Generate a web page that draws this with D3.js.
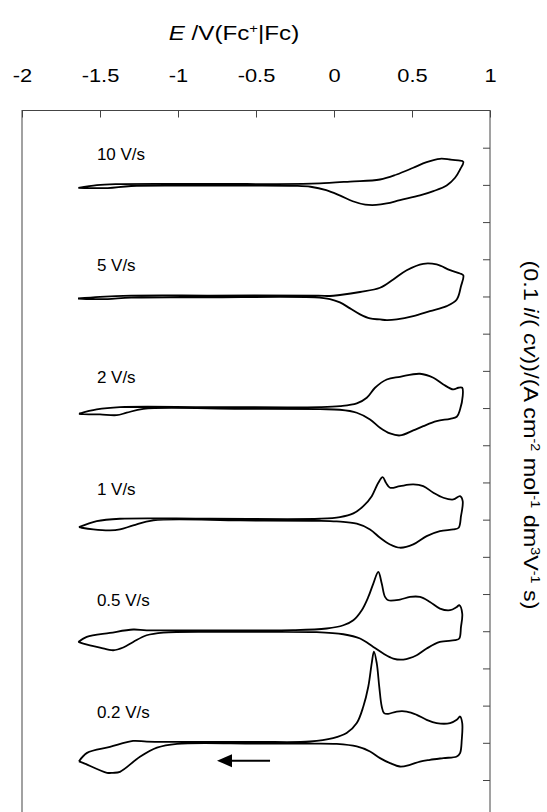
<!DOCTYPE html>
<html>
<head>
<meta charset="utf-8">
<script src="https://cdn.jsdelivr.net/npm/d3@7"></script>
<style>
  html, body { margin: 0; padding: 0; background: #fff; }
  svg { display: block; font-family: "Liberation Sans", Arial, sans-serif; }
</style>
</head>
<body>
<svg id="chart" width="547" height="812"></svg>
<script>
// Scan-rate labels and the vertical offset (in tick units) of each voltammogram
const rates   = ["10 V/s", "5 V/s", "2 V/s", "1 V/s", "0.5 V/s", "0.2 V/s"];
const offsets = [17, 14, 11, 8, 5, 2];

// Potential axis ticks (V vs Fc+|Fc) and the unlabelled current ticks
const xTicks = [-2, -1.5, -1, -0.5, 0, 0.5, 1];
const yTicks = d3.range(1, 19);

// Closed CV loops: [E / V, normalised current], forward branch then return branch
const cv10 = [[-1.639,-0.078],[-1.52,-0.005],[-1.40,0.020],[-0.8,0.025],[-0.20,0.025],[-0.09,0.040],[0.103,0.090],[0.295,0.145],[0.402,0.280],[0.508,0.460],[0.594,0.610],[0.679,0.702],[0.744,0.683],[0.797,0.656],[0.829,0.621],
  [0.808,0.414],[0.776,0.191],[0.722,-0.016],[0.637,-0.169],[0.551,-0.285],[0.423,-0.411],[0.338,-0.500],[0.270,-0.540],[0.200,-0.530],[0.120,-0.440],[0.040,-0.290],[-0.050,-0.140],[-0.150,-0.050],[-0.250,-0.025],[-0.8,-0.022],[-1.30,-0.030],[-1.45,-0.085],[-1.639,-0.078]];

const cv5 = [[-1.641,-0.054],[-1.50,-0.010],[-1.30,0.022],[-0.8,0.025],[-0.10,0.025],[-0.026,0.013],[0.038,0.040],[0.167,0.120],[0.295,0.234],[0.380,0.457],[0.466,0.707],[0.572,0.879],[0.658,0.860],[0.744,0.707],[0.808,0.618],[0.829,0.565],
  [0.814,0.277],[0.787,-0.081],[0.722,-0.261],[0.615,-0.395],[0.508,-0.530],[0.402,-0.618],[0.338,-0.637],[0.295,-0.618],[0.231,-0.590],[0.167,-0.480],[0.103,-0.320],[0.038,-0.160],[-0.026,-0.070],[-0.122,-0.025],[-0.8,-0.022],[-1.30,-0.030],[-1.45,-0.070],[-1.55,-0.070],[-1.641,-0.054]];

const cv2 = [[-1.635,-0.153],[-1.521,-0.038],[-1.372,0.024],[-0.8,0.025],[-0.090,0.025],[0.038,0.051],[0.146,0.124],[0.210,0.277],[0.263,0.546],[0.338,0.769],[0.423,0.841],[0.551,0.922],[0.637,0.815],[0.701,0.634],[0.765,0.500],[0.797,0.546],[0.822,0.546],
  [0.825,0.320],[0.808,-0.038],[0.787,-0.234],[0.744,-0.288],[0.658,-0.352],[0.572,-0.487],[0.508,-0.602],[0.423,-0.737],[0.359,-0.683],[0.295,-0.530],[0.231,-0.306],[0.146,-0.126],[0.038,-0.046],[-0.090,-0.030],[-0.6,-0.022],[-1.222,-0.020],[-1.329,-0.126],[-1.393,-0.191],[-1.500,-0.172],[-1.607,-0.164],[-1.635,-0.153]];

const cv1 = [[-1.635,-0.202],[-1.521,-0.040],[-1.372,0.024],[-0.8,0.025],[-0.090,0.025],[0.038,0.067],[0.124,0.167],[0.188,0.363],[0.242,0.632],[0.284,0.992],[0.312,1.142],[0.333,0.992],[0.359,0.858],[0.423,0.901],[0.508,0.946],[0.572,0.901],[0.637,0.723],[0.701,0.589],[0.765,0.543],[0.808,0.632],
  [0.825,0.497],[0.814,0.094],[0.799,-0.218],[0.765,-0.263],[0.679,-0.309],[0.594,-0.444],[0.508,-0.667],[0.423,-0.755],[0.359,-0.667],[0.295,-0.487],[0.231,-0.263],[0.146,-0.110],[0.017,-0.048],[-0.090,-0.030],[-0.6,-0.022],[-1.158,-0.020],[-1.287,-0.156],[-1.372,-0.263],[-1.436,-0.290],[-1.543,-0.263],[-1.617,-0.218],[-1.635,-0.202]];

const cv05 = [[-1.639,-0.288],[-1.585,-0.153],[-1.436,-0.046],[-1.287,0.046],[-1.201,0.025],[-0.8,0.025],[-0.261,0.027],[-0.047,0.073],[0.060,0.161],[0.124,0.296],[0.178,0.565],[0.220,0.922],[0.252,1.282],[0.284,1.594],[0.306,1.282],[0.327,0.922],[0.348,0.833],[0.423,0.852],[0.487,0.922],[0.551,0.922],[0.615,0.788],[0.679,0.610],[0.744,0.565],[0.787,0.653],[0.803,0.699],
  [0.822,0.476],[0.814,0.116],[0.803,-0.196],[0.776,-0.242],[0.679,-0.288],[0.594,-0.465],[0.530,-0.645],[0.444,-0.761],[0.380,-0.734],[0.316,-0.599],[0.252,-0.422],[0.167,-0.196],[0.060,-0.081],[-0.111,-0.025],[-0.6,-0.020],[-1.094,-0.035],[-1.201,-0.108],[-1.287,-0.288],[-1.351,-0.438],[-1.415,-0.511],[-1.500,-0.438],[-1.607,-0.331],[-1.639,-0.288]];

const cv02 = [[-1.635,-0.500],[-1.583,-0.270],[-1.436,-0.110],[-1.288,0.050],[-1.200,0.030],[-1.0,0.025],[-0.5,0.025],[-0.154,0.035],[-0.006,0.126],[0.081,0.261],[0.146,0.530],[0.188,0.976],[0.220,1.513],[0.242,2.142],[0.256,2.454],[0.274,2.142],[0.290,1.513],[0.306,0.976],[0.321,0.798],[0.348,0.780],[0.402,0.841],[0.466,0.841],[0.530,0.753],[0.594,0.618],[0.658,0.530],[0.744,0.530],[0.787,0.618],[0.808,0.707],
  [0.822,0.530],[0.819,0.081],[0.808,-0.277],[0.787,-0.368],[0.701,-0.411],[0.615,-0.457],[0.551,-0.503],[0.487,-0.591],[0.423,-0.637],[0.359,-0.546],[0.295,-0.411],[0.231,-0.234],[0.146,-0.099],[0.017,-0.030],[-0.154,-0.020],[-0.5,-0.020],[-1.006,-0.027],[-1.135,-0.130],[-1.244,-0.376],[-1.372,-0.780],[-1.417,-0.806],[-1.455,-0.806],[-1.609,-0.538],[-1.635,-0.500]];

const loops = [cv10, cv5, cv2, cv1, cv05, cv02];

// Scan-direction arrow under the slowest scan: E from -> to, at a current level
const arrowE = [-0.41, -0.75];
const arrowI = -0.48;

const svg = d3.select("#chart");
const x = d3.scaleLinear().domain([-2, 1]).range([22, 490]);
const y = d3.scaleLinear().domain([0, 19]).range([817.2, 110.5]);

const frameColor = "#444";

// Plot frame (bottom edge sits just below the page)
svg.append("rect")
  .attr("x", x(-2)).attr("y", y(19))
  .attr("width", x(1) - x(-2)).attr("height", y(0) - y(19) + 2)
  .attr("fill", "none").attr("stroke", frameColor).attr("stroke-width", 1);

// Top potential axis with inward ticks; labels drawn slightly wide
const xAxis = svg.append("g")
  .attr("transform", `translate(0,${y(19)})`)
  .call(d3.axisTop(x).tickValues(xTicks).tickSizeInner(-7).tickSizeOuter(0)
        .tickPadding(29).tickFormat(d => String(d)));
xAxis.select(".domain").remove();
xAxis.selectAll("line").attr("stroke", frameColor);
xAxis.selectAll("text").attr("font-size", 19).attr("fill", "#000")
  .attr("font-family", "'Liberation Sans', Arial, sans-serif")
  .attr("transform", "scale(1.15,1)");

// Right current axis: ticks only
const yAxis = svg.append("g")
  .attr("transform", `translate(${x(1)},0)`)
  .call(d3.axisRight(y).tickValues(yTicks).tickSizeInner(-7).tickSizeOuter(0).tickFormat(""));
yAxis.select(".domain").remove();
yAxis.selectAll("line").attr("stroke", frameColor);

// Voltammograms
loops.forEach((pts, k) => {
  const off = offsets[k];
  const line = d3.line()
    .x(d => x(d[0]))
    .y(d => y(d[1] + off))
    .curve(d3.curveCatmullRom.alpha(0.5));
  svg.append("path")
    .attr("d", line(pts))
    .attr("fill", "none")
    .attr("stroke", "#000")
    .attr("stroke-width", 1.8)
    .attr("stroke-linejoin", "round");

  svg.append("text")
    .attr("x", x(-1.52))
    .attr("y", y(off) - 25)
    .attr("font-size", 17)
    .attr("fill", "#000")
    .text(rates[k]);
});

// Arrow showing scan direction
const ay = y(offsets[5] + arrowI);
svg.append("line")
  .attr("x1", x(arrowE[0])).attr("x2", x(arrowE[1]) + 12)
  .attr("y1", ay).attr("y2", ay)
  .attr("stroke", "#000").attr("stroke-width", 2);
svg.append("path")
  .attr("d", `M${x(arrowE[1])},${ay} L${x(arrowE[1]) + 15},${ay - 6.5} L${x(arrowE[1]) + 15},${ay + 6.5} Z`)
  .attr("fill", "#000");

// Axis titles
const xt = svg.append("g")
  .attr("transform", "translate(234,39.5) scale(1.24,1)")
  .append("text")
  .attr("text-anchor", "middle")
  .attr("font-size", 19.5).attr("fill", "#000");
xt.append("tspan").attr("font-style", "italic").text("E");
xt.append("tspan").text(" /V(Fc");
xt.append("tspan").attr("font-size", 12).attr("dy", -7).text("+");
xt.append("tspan").attr("dy", 7).text("|Fc)");

const yt = svg.append("text")
  .attr("transform", "translate(524,435) rotate(90) scale(1.2,1)")
  .attr("text-anchor", "middle")
  .attr("font-size", 19.5).attr("fill", "#000");
yt.append("tspan").text("(0.1 ");
yt.append("tspan").attr("font-style", "italic").text("i");
yt.append("tspan").text("/( ");
yt.append("tspan").attr("font-style", "italic").text("cv");
yt.append("tspan").text("))/(A cm");
yt.append("tspan").attr("font-size", 12).attr("dy", -7).text("-2");
yt.append("tspan").attr("dy", 7).text(" mol");
yt.append("tspan").attr("font-size", 12).attr("dy", -7).text("-1");
yt.append("tspan").attr("dy", 7).text(" dm");
yt.append("tspan").attr("font-size", 12).attr("dy", -7).text("3");
yt.append("tspan").attr("dy", 7).text("V");
yt.append("tspan").attr("font-size", 12).attr("dy", -7).text("-1");
yt.append("tspan").attr("dy", 7).text(" s)");
</script>
</body>
</html>
